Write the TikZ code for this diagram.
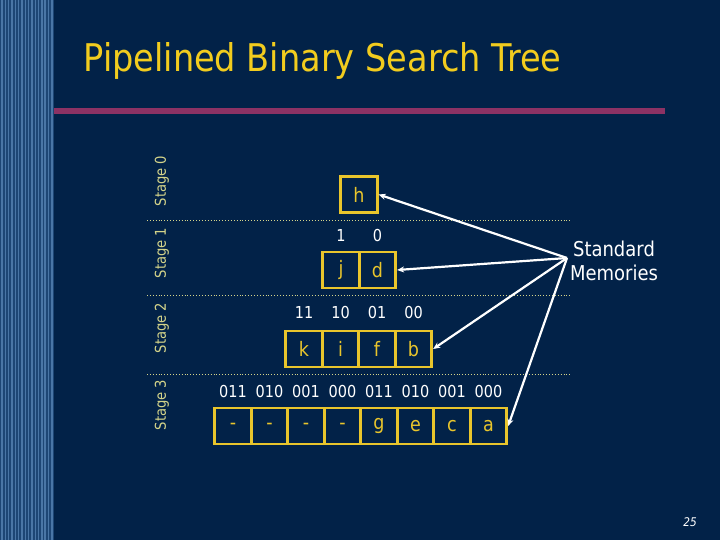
\documentclass[tikz,border=0pt]{standalone}
\usepackage{fontspec}
\setmainfont{DejaVu Sans}[FakeStretch=0.88]
\usetikzlibrary{arrows.meta,calc}

\definecolor{slidebg}{HTML}{022248}
\definecolor{stripedark}{HTML}{1D4675}
\definecolor{stripelight}{HTML}{4A76A6}
\definecolor{rulebar}{HTML}{8C3264}
\definecolor{titleyellow}{HTML}{F2CC1E}
\definecolor{cellyellow}{HTML}{E9C52C}
\definecolor{stageyellow}{HTML}{D4D48A}

\begin{document}
\begin{tikzpicture}[x=1bp,y=-1bp,
  cell/.style={draw=cellyellow,line width=2.8bp,minimum width=36.5bp,
    minimum height=36bp,inner sep=0pt,text=cellyellow,font=\fontsize{20}{20}\selectfont},
  code/.style={text=white,font=\fontsize{16.5}{16.5}\selectfont},
  stage/.style={rotate=90,text=stageyellow,font=\fontsize{15}{15}\selectfont},
  sep/.style={draw=stageyellow,line width=0.9bp,dotted},
  mem/.style={draw=white,line width=2.2bp,-{Stealth[length=7bp,width=6bp]}}]

\useasboundingbox (0,0) rectangle (720,540);

% Background and left stripes
\fill[slidebg] (0,0) rectangle (720,540);
\fill[stripedark] (0,0) rectangle (54,540);
\foreach \i in {0,...,15}
  \fill[stripelight] ({1.2+\i*3.33},0) rectangle ++(1.5,540);

% Title and rule
\node[anchor=base west,text=titleyellow,font=\fontsize{38.3}{38.3}\selectfont]
  (title) at (80,72) {Pipelined Binary Search Tree};
\fill[rulebar] (54,108) rectangle (665,114);

% Stage separators
\foreach \y in {220,295,374}
  \draw[sep] (147,\y) -- (572,\y);

% Stage labels
\node[stage] (s0) at (162,181) {Stage 0};
\node[stage] (s1) at (162,253) {Stage 1};
\node[stage] (s2) at (162,328) {Stage 2};
\node[stage] (s3) at (162,405) {Stage 3};

% Stage 0
\node[cell] (h) at (359,194.5) {h};

% Stage 1
\foreach \t/\c [count=\i from 0] in {1/j,0/d}{
  \node[cell] (\c) at ({341+\i*36.5},270) {\c};
  \node[code] at ({341+\i*36.5},236) {\t};
}

% Stage 2
\foreach \t/\c [count=\i from 0] in {11/k,10/i,01/f,00/b}{
  \node[cell] (\c) at ({304+\i*36.5},349) {\c};
  \node[code] at ({304+\i*36.5},313) {\t};
}

% Stage 3
\foreach \t/\c/\n [count=\i from 0] in
  {011/-/m1,010/-/m2,001/-/m3,000/-/m4,011/g/g,010/e/e,001/c/c,000/a/a}{
  \node[cell] (\n) at ({233+\i*36.5},426) {\c};
  \node[code] at ({233+\i*36.5},392) {\t};
}

% Standard memories
\coordinate (src) at (567,258);
\node[text=white,align=center,font=\fontsize{20.5}{24}\selectfont]
  (std) at (614,261) {Standard\\Memories};
\draw[mem] (src) -- (h.east);
\draw[mem] (src) -- (d.east);
\draw[mem] (src) -- (b.east);
\draw[mem] (src) -- (a.east);

% Page number
\node[text=white,font=\fontsize{12}{12}\selectfont\itshape] (pg) at (690,522) {25};

\end{tikzpicture}
\end{document}
